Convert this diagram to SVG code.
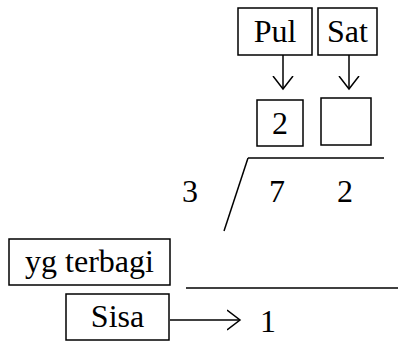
<svg xmlns="http://www.w3.org/2000/svg" width="398" height="344" viewBox="0 0 398 344">
<style>
.box{fill:#fff;stroke:#000;stroke-width:1.5}
.ln{fill:none;stroke:#000;stroke-width:1.5}
.t{font-family:"Liberation Serif","Times New Roman",serif;font-size:32px;fill:#000;text-anchor:middle}
</style>
<defs>
<marker id="ah" markerUnits="userSpaceOnUse" markerWidth="16" markerHeight="24" refX="13" refY="11" orient="auto">
<path d="M0,1 L13,11 L0,21" fill="none" stroke="#000" stroke-width="1.5"/>
</marker>
</defs>
<g id="connectors">
<line class="ln" x1="283" y1="55" x2="283" y2="89" marker-end="url(#ah)"/>
<line class="ln" x1="349" y1="55" x2="349" y2="89" marker-end="url(#ah)"/>
<line class="ln" x1="170" y1="320" x2="240" y2="320" marker-end="url(#ah)"/>
</g>
<g id="division">
<line class="ln" x1="248" y1="158" x2="384" y2="158"/>
<line class="ln" x1="248" y1="158" x2="224" y2="231"/>
<line class="ln" x1="186" y1="288" x2="398" y2="288"/>
<text class="t" x="190" y="202">3</text>
<text class="t" x="277" y="202">7</text>
<text class="t" x="345" y="202">2</text>
<text class="t" x="268" y="332">1</text>
</g>
<g id="pul"><rect class="box" x="238" y="8" width="74" height="47"/><text class="t" x="275" y="42">Pul</text></g>
<g id="sat"><rect class="box" x="318" y="8" width="59" height="47"/><text class="t" x="347.5" y="42">Sat</text></g>
<g id="q1"><rect class="box" x="257" y="100" width="46" height="46"/><text class="t" x="280" y="134">2</text></g>
<g id="q2"><rect class="box" x="321" y="98" width="50" height="47"/></g>
<g id="yg"><rect class="box" x="9" y="239" width="161" height="46"/><text class="t" x="89.5" y="272">yg terbagi</text></g>
<g id="sisa"><rect class="box" x="66" y="294" width="103" height="46"/><text class="t" x="117.5" y="327">Sisa</text></g>
</svg>
